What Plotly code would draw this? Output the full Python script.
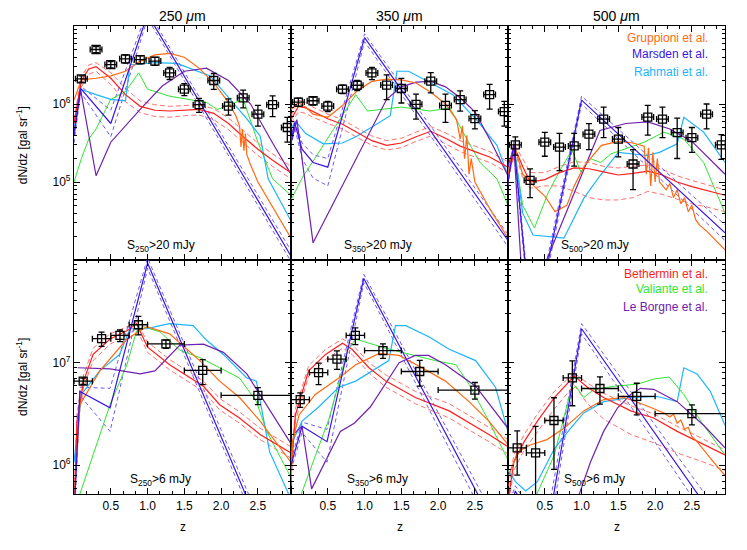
import numpy as np
import plotly.graph_objects as go
from plotly.subplots import make_subplots

# observed dN/dz bins
Z_TOP = [0.1, 0.3, 0.5, 0.7, 0.9, 1.1, 1.3, 1.5, 1.7, 1.9, 2.1, 2.3, 2.5, 2.7, 2.9]
DZ_TOP = [0.08] * 15
Z_BOT = [0.125, 0.375, 0.625, 0.875, 1.25, 1.75, 2.5]
DZ_BOT = [0.125, 0.125, 0.125, 0.125, 0.25, 0.25, 0.5]

n_250_20 = [2.1e6, 5.0e6, 3.2e6, 3.8e6, 3.7e6, 3.55e6, 2.5e6, 1.55e6, 9.8e5, 2.0e6, 9.4e5, 1.2e6, 7.4e5, 9.8e5, 5.0e5]
e_250_20 = [1.9e5, 4.5e5, 2.9e5, 4.5e5, 4.4e5, 4.2e5, 4.4e5, 2.7e5, 2.0e5, 4.6e5, 2.2e5, 3.1e5, 2.2e5, 2.9e5, 1.75e5]
n_350_20 = [1.06e6, 1.1e6, 9.4e5, 1.55e6, 1.74e6, 2.5e6, 1.75e6, 1.58e6, 9.9e5, 1.96e6, 9.6e5, 1.14e6, 6.5e5, 1.32e6, 8.0e5]
e_350_20 = [1.3e5, 1.3e5, 1.4e5, 1.9e5, 2.6e5, 4.5e5, 6.1e5, 5.5e5, 3.5e5, 5.7e5, 3.8e5, 3.3e5, 1.7e5, 4.6e5, 2.8e5]
n_500_20 = [3.0e5, 1.05e5, 3.24e5, 2.8e5, 2.9e5, 4.1e5, 6.4e5, 3.55e5, 1.7e5, 6.8e5, 6.4e5, 4.3e5, 3.7e5, 7.4e5, 3.0e5]
e_500_20 = [7.9e4, 4.2e4, 1.1e5, 1.4e5, 1.3e5, 1.5e5, 2.7e5, 1.45e5, 9.0e4, 2.8e5, 2.7e5, 2.3e5, 1.3e5, 2.6e5, 1.05e5]
n_250_6 = [6.6e6, 1.71e7, 1.84e7, 2.34e7, 1.52e7, 8.4e6, 4.8e6]
e_250_6 = [4.6e5, 2.7e6, 2.4e6, 4.8e6, 1.4e6, 2.3e6, 9.0e5]
n_350_6 = [4.37e6, 8.0e6, 1.08e7, 1.84e7, 1.31e7, 8.2e6, 5.4e6]
e_350_6 = [7.0e5, 1.9e6, 2.2e6, 3.4e6, 2.1e6, 2.3e6, 1.0e6]
n_500_6 = [1.48e6, 1.32e6, 2.73e6, 7.1e6, 5.6e6, 4.7e6, 3.18e6]
e_500_6 = [6.8e5, 1.07e6, 1.82e6, 3.3e6, 1.65e6, 1.6e6, 7.0e5]

# model curves: (z, log10 dN/dz)
Z_STD = [0.0, 0.1, 0.2, 0.3, 0.5, 0.7, 0.9, 1.1, 1.3, 1.5, 1.7, 1.9, 2.1, 2.3, 2.5, 2.7, 2.95]

models_250_20 = {
    "bethermin_hi": (Z_STD, [5.8, 6.35, 6.5, 6.53, 6.4, 6.2, 6.04, 5.99, 5.97, 5.98, 5.99, 5.94, 5.82, 5.66, 5.5, 5.36, 5.2]),
    "bethermin_lo": (Z_STD, [5.7, 6.22, 6.38, 6.42, 6.25, 6.03, 5.89, 5.84, 5.83, 5.85, 5.86, 5.8, 5.67, 5.5, 5.34, 5.2, 5.04]),
    "marsden_hi": ([0.0, 0.09, 0.5, 1.0, 2.95], [5.65, 6.23, 5.92, 7.2, 4.12]),
    "marsden_lo": ([0.0, 0.09, 0.5, 1.0, 2.95], [5.5, 6.15, 5.58, 7.1, 3.98]),
    "valiante": ([0.0, 0.1, 0.2, 0.3, 0.5, 0.7, 0.88, 1.0, 1.3, 1.8, 1.95, 2.3, 2.5, 2.7, 2.95],
                 [5.0, 5.3, 5.55, 5.68, 6.06, 6.16, 6.4, 6.19, 6.1, 6.02, 5.93, 6.06, 5.51, 5.04, 4.83]),
    "rahmati": ([0.0, 0.09, 0.3, 0.5, 0.7, 0.76, 1.1, 1.4, 1.85, 2.1, 2.35, 2.53, 2.64, 2.95],
                [5.7, 6.19, 6.12, 6.06, 6.04, 6.5, 6.53, 6.52, 6.36, 6.08, 5.81, 5.59, 5.04, 4.5]),
    "leborgne": ([0.0, 0.09, 0.3, 0.5, 0.9, 1.2, 1.5, 1.8, 2.1, 2.4, 2.7, 2.95],
                 [5.6, 6.18, 5.08, 5.51, 5.93, 6.23, 6.42, 6.46, 6.3, 6.0, 5.5, 5.1]),
    "bethermin": (Z_STD, [5.75, 6.3, 6.45, 6.48, 6.33, 6.12, 5.97, 5.92, 5.91, 5.92, 5.93, 5.88, 5.75, 5.58, 5.42, 5.28, 5.12]),
    "gruppioni": ([0.0, 0.1, 0.3, 0.5, 0.7, 0.9, 1.1, 1.3, 1.5, 1.7, 1.9, 2.1, 2.2, 2.25, 2.27, 2.29, 2.31, 2.33, 2.35, 2.4, 2.5, 2.7, 2.95],
                  [6.05, 6.31, 6.33, 6.36, 6.42, 6.55, 6.63, 6.65, 6.6, 6.46, 6.27, 6.02, 5.85, 5.72, 5.45, 5.68, 5.4, 5.62, 5.35, 5.22, 5.0, 4.68, 4.28]),
    "marsden": ([0.0, 0.09, 0.5, 1.0, 2.95], [5.6, 6.2, 5.75, 7.15, 4.05]),
}

models_350_20 = {
    "bethermin_hi": (Z_STD, [5.85, 6.05, 6.02, 5.96, 5.87, 5.8, 5.69, 5.59, 5.53, 5.56, 5.64, 5.71, 5.63, 5.53, 5.46, 5.39, 5.26]),
    "bethermin_lo": (Z_STD, [5.75, 5.9, 5.88, 5.83, 5.75, 5.68, 5.57, 5.47, 5.41, 5.44, 5.52, 5.59, 5.49, 5.39, 5.32, 5.25, 5.12]),
    "marsden_hi": ([0.0, 0.05, 0.15, 0.3, 0.5, 1.0, 2.95], [5.55, 5.8, 5.5, 5.35, 5.3, 6.9, 4.33]),
    "marsden_lo": ([0.0, 0.05, 0.15, 0.3, 0.5, 1.0, 2.95], [5.45, 5.7, 5.3, 5.05, 4.95, 6.8, 4.17]),
    "valiante": ([0.0, 0.15, 0.35, 0.67, 0.88, 1.04, 1.33, 1.5, 1.89, 2.16, 2.39, 2.57, 2.8, 2.95],
                 [4.77, 5.05, 5.34, 5.81, 6.12, 5.91, 5.94, 5.96, 5.91, 5.95, 5.55, 5.25, 5.04, 4.7]),
    "rahmati": ([0.0, 0.08, 0.2, 0.44, 0.7, 0.9, 1.35, 1.44, 1.6, 1.89, 2.2, 2.52, 2.8, 2.95],
                [5.7, 5.76, 5.62, 5.49, 5.5, 5.59, 5.85, 6.42, 6.42, 6.27, 6.12, 5.8, 5.47, 5.08]),
    "leborgne": ([0.0, 0.08, 0.3, 1.3, 1.5, 1.7, 1.9, 2.1, 2.3, 2.5, 2.7, 2.95],
                 [5.5, 5.8, 4.22, 6.06, 6.22, 6.28, 6.29, 6.22, 6.08, 5.9, 5.55, 5.08]),
    "bethermin": (Z_STD, [5.8, 5.97, 5.95, 5.9, 5.81, 5.74, 5.63, 5.53, 5.47, 5.5, 5.58, 5.65, 5.56, 5.46, 5.39, 5.32, 5.19]),
    "gruppioni": ([0.0, 0.1, 0.2, 0.3, 0.5, 0.7, 0.9, 1.1, 1.3, 1.5, 1.7, 1.9, 2.1, 2.25, 2.3, 2.33, 2.36, 2.39, 2.42, 2.45, 2.5, 2.7, 2.95],
                  [5.93, 6.02, 5.96, 5.87, 5.83, 5.98, 6.17, 6.29, 6.32, 6.31, 6.27, 6.15, 6.0, 5.8, 5.55, 5.72, 5.3, 5.6, 5.1, 5.3, 5.0, 4.66, 4.28]),
    "marsden": ([0.0, 0.05, 0.15, 0.3, 0.5, 1.0, 2.95], [5.5, 5.76, 5.42, 5.25, 5.19, 6.85, 4.25]),
}

models_500_20 = {
    "bethermin_hi": (Z_STD, [5.15, 5.46, 5.3, 5.12, 5.12, 5.2, 5.26, 5.25, 5.2, 5.18, 5.2, 5.22, 5.16, 5.08, 5.02, 4.97, 4.9]),
    "bethermin_lo": (Z_STD, [5.05, 5.38, 5.05, 4.92, 4.95, 4.95, 4.88, 4.8, 4.77, 4.77, 4.8, 4.88, 4.84, 4.78, 4.72, 4.68, 4.62]),
    "marsden_hi": ([0.0, 0.08, 0.33, 1.0, 2.95], [5.05, 5.52, 3.1, 6.1, 4.45]),
    "marsden_lo": ([0.0, 0.08, 0.33, 1.0, 2.95], [4.95, 5.45, 2.9, 6.0, 4.25]),
    "valiante": ([0.0, 0.08, 0.2, 0.36, 0.55, 0.72, 0.87, 0.99, 1.12, 1.26, 1.4, 1.85, 2.12, 2.39, 2.66, 2.95],
                 [5.1, 5.46, 4.7, 4.41, 4.87, 5.17, 5.41, 5.13, 5.3, 5.25, 5.36, 5.51, 5.64, 5.55, 5.25, 4.6]),
    "rahmati": ([0.0, 0.08, 0.2, 0.34, 0.76, 1.03, 1.25, 1.5, 1.89, 2.06, 2.3, 2.39, 2.66, 2.95],
                [5.1, 5.47, 4.6, 4.32, 4.28, 4.79, 5.08, 5.38, 5.34, 5.38, 5.49, 5.83, 5.64, 5.25]),
    "leborgne": ([0.0, 0.08, 0.22, 1.25, 1.6, 1.9, 2.2, 2.5, 2.95],
                 [5.2, 5.45, 3.3, 5.66, 5.75, 5.77, 5.68, 5.52, 5.1]),
    "bethermin": (Z_STD, [5.1, 5.42, 5.2, 5.0, 5.03, 5.12, 5.18, 5.17, 5.13, 5.09, 5.11, 5.14, 5.09, 5.0, 4.94, 4.89, 4.83]),
    "gruppioni": ([0.0, 0.08, 0.2, 0.35, 0.5, 0.64, 0.8, 0.9, 1.04, 1.27, 1.5, 1.7, 1.85, 1.88, 1.91, 1.94, 1.97, 2.0, 2.03, 2.06,
                   2.15, 2.2, 2.25, 2.3, 2.35, 2.4, 2.45, 2.5, 2.55, 2.6, 2.7, 2.95],
                  [5.1, 5.49, 5.1, 4.95, 4.82, 4.62, 4.7, 4.95, 5.21, 5.47, 5.52, 5.5, 5.46, 5.1, 5.44, 4.95, 5.38, 5.0, 5.3, 5.0,
                   4.9, 4.98, 4.8, 4.9, 4.72, 4.8, 4.62, 4.7, 4.52, 4.45, 4.37, 4.13]),
    "marsden": ([0.0, 0.08, 0.33, 1.0, 2.95], [5.0, 5.49, 3.0, 6.05, 4.35]),
}

models_250_6 = {
    "bethermin_hi": ([0.0, 0.04, 0.13, 0.26, 0.49, 0.72, 0.85, 1.0, 1.3, 1.76, 1.98, 2.25, 2.53, 2.95],
                     [5.6, 6.5, 6.88, 7.14, 7.28, 7.35, 7.4, 7.2, 7.03, 6.82, 6.65, 6.52, 6.36, 6.18]),
    "bethermin_lo": ([0.0, 0.04, 0.13, 0.26, 0.49, 0.72, 0.85, 1.0, 1.3, 1.76, 1.98, 2.25, 2.53, 2.95],
                     [5.4, 6.35, 6.76, 7.02, 7.18, 7.27, 7.33, 7.1, 6.93, 6.72, 6.54, 6.41, 6.25, 6.07]),
    "marsden_hi": ([0.0, 0.08, 0.49, 1.0, 2.95], [5.6, 6.76, 6.75, 8.02, 4.75]),
    "marsden_lo": ([0.0, 0.08, 0.49, 1.0, 2.95], [5.4, 6.68, 6.33, 7.92, 4.6]),
    "valiante": ([0.0, 0.26, 0.49, 0.72, 0.85, 0.94, 1.17, 1.44, 1.71, 1.98, 2.25, 2.48, 2.62, 2.95],
                 [5.55, 6.1, 6.59, 6.98, 7.31, 7.35, 7.3, 7.12, 7.05, 6.95, 6.85, 6.62, 6.33, 5.88]),
    "rahmati": ([0.0, 0.1, 0.35, 0.62, 0.76, 0.99, 1.17, 1.3, 1.62, 1.8, 2.03, 2.35, 2.48, 2.66, 2.93],
                [6.03, 6.69, 6.92, 7.08, 7.33, 7.33, 7.36, 7.38, 7.36, 7.22, 7.08, 6.85, 6.82, 6.13, 5.7]),
    "leborgne": ([0.05, 0.49, 0.9, 1.1, 1.44, 1.76, 2.03, 2.35, 2.95],
                 [6.95, 6.94, 6.89, 6.92, 7.17, 7.18, 7.1, 6.89, 6.21]),
    "bethermin": ([0.0, 0.04, 0.13, 0.26, 0.49, 0.72, 0.85, 1.0, 1.3, 1.76, 1.98, 2.25, 2.53, 2.95],
                  [5.5, 6.43, 6.82, 7.08, 7.23, 7.31, 7.38, 7.15, 6.98, 6.77, 6.59, 6.46, 6.3, 6.12]),
    "gruppioni": ([0.0, 0.08, 0.35, 0.72, 0.99, 1.3, 1.71, 1.98, 2.25, 2.53, 2.95],
                  [5.6, 6.59, 6.92, 7.23, 7.35, 7.28, 7.02, 6.82, 6.66, 6.43, 6.03]),
    "marsden": ([0.0, 0.08, 0.49, 1.0, 2.95], [5.5, 6.72, 6.56, 7.97, 4.67]),
}

models_350_6 = {
    "bethermin_hi": ([0.0, 0.06, 0.24, 0.47, 0.7, 0.83, 1.06, 1.29, 1.69, 2.15, 2.69, 2.95],
                     [6.0, 6.55, 6.97, 7.13, 7.23, 7.18, 7.0, 6.88, 6.72, 6.6, 6.37, 6.25]),
    "bethermin_lo": ([0.0, 0.06, 0.24, 0.47, 0.7, 0.83, 1.06, 1.29, 1.69, 2.15, 2.69, 2.95],
                     [5.86, 6.43, 6.87, 7.03, 7.14, 7.08, 6.9, 6.76, 6.6, 6.46, 6.23, 6.11]),
    "marsden_hi": ([0.0, 0.15, 0.49, 0.99, 2.95], [6.05, 6.42, 6.35, 7.86, 5.25]),
    "marsden_lo": ([0.0, 0.15, 0.49, 0.99, 2.95], [5.95, 6.32, 6.03, 7.78, 5.05]),
    "valiante": ([0.08, 0.13, 0.52, 0.77, 0.88, 1.24, 1.51, 1.96, 2.24, 2.42, 2.69, 2.95],
                 [5.5, 5.7, 6.46, 7.12, 7.23, 7.15, 7.1, 7.02, 6.98, 6.79, 6.43, 6.05]),
    "rahmati": ([0.0, 0.02, 0.15, 0.38, 0.65, 0.88, 1.33, 1.42, 1.56, 1.88, 2.15, 2.51, 2.78, 2.95],
                [5.9, 6.23, 6.43, 6.57, 6.76, 6.82, 7.02, 7.36, 7.36, 7.25, 7.13, 7.02, 6.76, 6.33]),
    "leborgne": ([0.03, 0.15, 0.28, 0.67, 0.86, 1.08, 1.47, 1.69, 1.87, 2.1, 2.51, 2.95],
                 [6.3, 6.38, 5.77, 6.33, 6.41, 6.57, 7.0, 7.07, 7.07, 6.98, 6.77, 6.36]),
    "bethermin": ([0.0, 0.06, 0.24, 0.47, 0.7, 0.83, 1.06, 1.29, 1.69, 2.15, 2.69, 2.95],
                  [5.93, 6.49, 6.92, 7.08, 7.19, 7.13, 6.95, 6.82, 6.66, 6.53, 6.3, 6.18]),
    "gruppioni": ([0.0, 0.02, 0.11, 0.33, 0.65, 0.88, 1.2, 1.47, 1.78, 2.1, 2.42, 2.69, 2.95],
                  [5.8, 6.23, 6.49, 6.69, 6.85, 6.98, 7.09, 7.07, 6.95, 6.82, 6.62, 6.43, 6.2]),
    "marsden": ([0.0, 0.15, 0.49, 0.99, 2.95], [6.0, 6.38, 6.23, 7.82, 5.16]),
}

models_500_6 = {
    "bethermin_hi": ([0.01, 0.08, 0.22, 0.4, 0.63, 0.9, 1.08, 1.3, 1.67, 1.98, 2.3, 2.66, 2.95],
                     [5.8, 6.1, 6.3, 6.5, 6.72, 6.9, 6.8, 6.7, 6.58, 6.5, 6.38, 6.25, 6.15]),
    "bethermin_lo": ([0.01, 0.08, 0.22, 0.4, 0.63, 0.9, 1.08, 1.3, 1.67, 1.98, 2.3, 2.66, 2.95],
                     [5.65, 5.95, 6.15, 6.33, 6.55, 6.78, 6.6, 6.45, 6.3, 6.22, 6.12, 6.03, 5.95]),
    "marsden_hi": ([0.0, 0.1, 0.5, 1.0, 2.95], [5.6, 5.8, 5.35, 7.38, 5.45]),
    "marsden_lo": ([0.0, 0.1, 0.5, 1.0, 2.95], [5.45, 5.7, 5.05, 7.28, 5.22]),
    "valiante": ([0.3, 0.38, 0.63, 0.85, 0.92, 1.03, 1.17, 1.44, 1.76, 1.98, 2.19, 2.39, 2.62, 2.95],
                 [5.4, 5.7, 6.1, 6.72, 6.77, 6.66, 6.74, 6.77, 6.79, 6.84, 6.86, 6.69, 6.43, 6.1]),
    "rahmati": ([0.0, 0.1, 0.24, 0.4, 0.63, 0.85, 1.03, 1.3, 1.67, 2.03, 2.3, 2.39, 2.57, 2.75, 2.95],
                [5.95, 5.84, 5.75, 5.84, 6.16, 6.36, 6.51, 6.62, 6.66, 6.67, 6.62, 6.95, 6.89, 6.72, 6.39]),
    "leborgne": ([0.8, 0.96, 1.12, 1.3, 1.49, 1.67, 1.8, 1.98, 2.3, 2.66, 2.95],
                 [5.2, 5.7, 6.03, 6.33, 6.56, 6.69, 6.75, 6.74, 6.62, 6.39, 6.17]),
    "bethermin": ([0.01, 0.08, 0.22, 0.4, 0.63, 0.9, 1.08, 1.3, 1.67, 1.98, 2.3, 2.66, 2.95],
                  [5.7, 6.03, 6.23, 6.43, 6.66, 6.87, 6.76, 6.66, 6.53, 6.46, 6.33, 6.2, 6.1]),
    "gruppioni": ([0.01, 0.13, 0.31, 0.53, 0.76, 1.03, 1.3, 1.58, 1.85, 2.12, 2.2, 2.25, 2.3, 2.35, 2.4, 2.45, 2.5, 2.57, 2.75, 2.95],
                  [5.9, 6.13, 6.2, 6.25, 6.36, 6.53, 6.64, 6.66, 6.59, 6.51, 6.47, 6.5, 6.41, 6.44, 6.35, 6.37, 6.28, 6.23, 6.07, 5.9]),
    "marsden": ([0.0, 0.1, 0.5, 1.0, 2.95], [5.5, 5.75, 5.2, 7.33, 5.34]),
}

STYLES = {
    "gruppioni": ("#ff6a10", "solid", 1.2),
    "marsden": ("#3a14e6", "solid", 1.2),
    "marsden_hi": ("#5c48f2", "4px,3px", 0.9),
    "marsden_lo": ("#5c48f2", "4px,3px", 0.9),
    "rahmati": ("#1cb4ff", "solid", 1.2),
    "bethermin": ("#ff1e1e", "solid", 1.2),
    "bethermin_hi": ("#ff6060", "5px,3px", 0.9),
    "bethermin_lo": ("#ff6060", "5px,3px", 0.9),
    "valiante": ("#2ee62e", "solid", 1.0),
    "leborgne": ("#7020b0", "solid", 1.2),
}

panels = [
    (1, 1, models_250_20, Z_TOP, DZ_TOP, n_250_20, e_250_20, "250", "20"),
    (1, 2, models_350_20, Z_TOP, DZ_TOP, n_350_20, e_350_20, "350", "20"),
    (1, 3, models_500_20, Z_TOP, DZ_TOP, n_500_20, e_500_20, "500", "20"),
    (2, 1, models_250_6, Z_BOT, DZ_BOT, n_250_6, e_250_6, "250", "6"),
    (2, 2, models_350_6, Z_BOT, DZ_BOT, n_350_6, e_350_6, "350", "6"),
    (2, 3, models_500_6, Z_BOT, DZ_BOT, n_500_6, e_500_6, "500", "6"),
]

FONT = "Liberation Sans, Arial, Helvetica, sans-serif"

fig = make_subplots(rows=2, cols=3, horizontal_spacing=0, vertical_spacing=0)

for row, col, models, zobs, dzobs, nobs, eobs, band, cut in panels:
    for name, (z, logn) in models.items():
        color, dash, width = STYLES[name]
        fig.add_trace(go.Scatter(
            x=z, y=np.power(10.0, logn), mode="lines",
            line=dict(color=color, dash=dash, width=width),
            showlegend=False, hoverinfo="skip"), row=row, col=col)

    fig.add_trace(go.Scatter(
        x=zobs, y=nobs, mode="markers",
        marker=dict(symbol="square-open", size=8, color="black", line=dict(width=1.3)),
        error_y=dict(type="data", array=eobs, color="black", thickness=1.3, width=3),
        error_x=dict(type="data", array=dzobs, color="black", thickness=1.3, width=3),
        showlegend=False), row=row, col=col)

    idx = (row - 1) * 3 + col
    suffix = "" if idx == 1 else str(idx)
    fig.add_annotation(
        x=1.18, y=0.015, xref="x" + suffix, yref="y" + suffix + " domain",
        xanchor="center", yanchor="bottom", showarrow=False,
        text=f"S<sub>{band}</sub>>{cut} mJy", font=dict(size=12, color="black", family=FONT))

top_minor = [k * 10 ** d for d in range(4, 7) for k in range(2, 10)]
bot_minor = [k * 10 ** d for d in range(5, 8) for k in range(2, 10)]

fig.update_xaxes(
    range=[0, 2.95], showline=True, linecolor="black", linewidth=1.2, mirror="allticks",
    ticks="inside", ticklen=6, tickcolor="black", tickwidth=1,
    tickmode="array", tickvals=[0.5, 1.0, 1.5, 2.0, 2.5], ticktext=["0.5", "1.0", "1.5", "2.0", "2.5"],
    minor=dict(ticks="inside", ticklen=3, tickcolor="black", tick0=0, dtick=0.5 / 3, showgrid=False),
    showgrid=False, zeroline=False, tickfont=dict(size=12, family=FONT, color="black"))
fig.update_xaxes(showticklabels=False, row=1)

fig.update_yaxes(
    type="log", showline=True, linecolor="black", linewidth=1.2, mirror="allticks",
    ticks="inside", ticklen=6, tickcolor="black", tickwidth=1,
    showgrid=False, zeroline=False, tickfont=dict(size=12, family=FONT, color="black"))
fig.update_yaxes(range=[4, 7], tickmode="array", tickvals=[1e5, 1e6],
                 ticktext=["10<sup>5</sup>", "10<sup>6</sup>"],
                 minor=dict(ticks="inside", ticklen=3, tickcolor="black", tickvals=top_minor), row=1)
fig.update_yaxes(range=[5.72, 8], tickmode="array", tickvals=[1e6, 1e7],
                 ticktext=["10<sup>6</sup>", "10<sup>7</sup>"],
                 minor=dict(ticks="inside", ticklen=3, tickcolor="black", tickvals=bot_minor), row=2)
fig.update_yaxes(showticklabels=False, col=2)
fig.update_yaxes(showticklabels=False, col=3)

# column titles, axis titles, model names
for i, band in enumerate(["250", "350", "500"]):
    fig.add_annotation(x=(i + 0.5) / 3, y=1.021, xref="paper", yref="paper", showarrow=False,
                       xanchor="center", yanchor="middle", borderpad=0,
                       text=f"{band} <i>\u03bc</i>m", font=dict(size=14, color="black", family=FONT))
    fig.add_annotation(x=(i + 0.5) / 3, y=-0.07, xref="paper", yref="paper", showarrow=False,
                       xanchor="center", yanchor="middle",
                       text="z", font=dict(size=12, color="black", family=FONT))

for yc in [0.745, 0.25]:
    fig.add_annotation(x=-0.08, y=yc, xref="paper", yref="paper", showarrow=False, textangle=-90,
                       xanchor="center", yanchor="middle",
                       text="dN/dz [gal sr<sup>-1</sup>]", font=dict(size=12, color="black", family=FONT))

legend_top = [("Gruppioni et al.", "#ff6a10", 0.949), ("Marsden et al.", "#3a14e6", 0.881),
              ("Rahmati et al.", "#1cb4ff", 0.805)]
legend_bot = [("Bethermin et al.", "#ff1e1e", 0.941), ("Valiante et al.", "#2ee62e", 0.875),
              ("Le Borgne et al.", "#7020b0", 0.80)]
for text, color, yy in legend_top:
    fig.add_annotation(x=0.93, y=yy, xref="x3 domain", yref="y3 domain", xanchor="right", yanchor="middle",
                       showarrow=False, text=text, font=dict(size=12, color=color, family=FONT))
for text, color, yy in legend_bot:
    fig.add_annotation(x=0.93, y=yy, xref="x6 domain", yref="y6 domain", xanchor="right", yanchor="middle",
                       showarrow=False, text=text, font=dict(size=12, color=color, family=FONT))

# page body adds an 8px offset, so the figure is drawn 8px smaller
fig.update_layout(
    width=739, height=542,
    margin=dict(l=66, r=22, t=18, b=56),
    paper_bgcolor="white", plot_bgcolor="white",
    font=dict(family=FONT, color="black"),
    showlegend=False,
)

fig.write_html("out.html")
